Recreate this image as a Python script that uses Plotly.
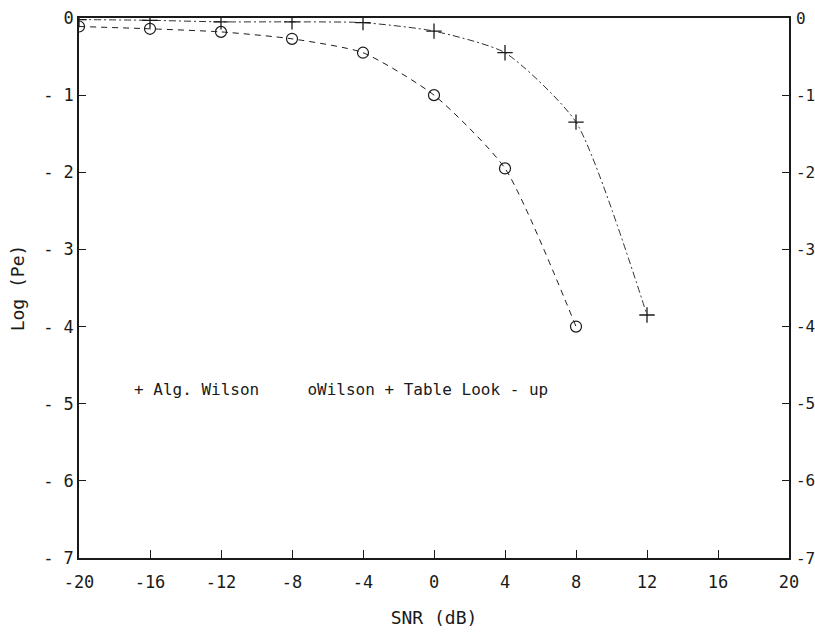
import plotly.graph_objects as go

# Error probability (log10 Pe) versus SNR for the two decoders
snr_db = [-20, -16, -12, -8, -4, 0, 4, 8, 12]
log_pe_alg_wilson = [-0.02, -0.03, -0.05, -0.05, -0.06, -0.17, -0.45, -1.35, -3.85]
snr_db_table = [-20, -16, -12, -8, -4, 0, 4, 8]
log_pe_table_lookup = [-0.11, -0.14, -0.18, -0.27, -0.45, -1.0, -1.95, -4.0]

x_ticks = [-20, -16, -12, -8, -4, 0, 4, 8, 12, 16, 20]
x_tick_text = ["-20", "-16", "-12", "-8", "-4", "0", "4", "8", "12", "16", "20"]
y_ticks = [0, -1, -2, -3, -4, -5, -6, -7]
y_tick_text_left = ["0", "- 1", "- 2", "- 3", "- 4", "- 5", "- 6", "- 7"]
y_tick_text_right = ["0", "-1", "-2", "-3", "-4", "-5", "-6", "-7"]

legend_text = "+ Alg. Wilson" + "\u00a0" * 5 + "oWilson + Table Look - up"

INK = "#1a1a1a"
FONT = "DejaVu Sans Mono"

fig = go.Figure()

fig.add_trace(go.Scatter(
    x=snr_db_table, y=log_pe_table_lookup,
    mode="lines+markers",
    line=dict(color=INK, width=1, dash="6px,5px", shape="spline", smoothing=0.6),
    marker=dict(symbol="circle-open", size=11, color=INK, line=dict(width=1.2, color=INK)),
    showlegend=False, hoverinfo="x+y",
))

fig.add_trace(go.Scatter(
    x=snr_db, y=log_pe_alg_wilson,
    mode="lines+markers",
    line=dict(color=INK, width=0.9, dash="7px,3px,2px,3px", shape="spline", smoothing=0.6),
    marker=dict(symbol="cross-thin", size=11, color=INK, line=dict(width=1.3, color=INK)),
    yaxis="y2",
    showlegend=False, hoverinfo="x+y",
))

fig.add_annotation(
    x=-17, y=-4.82, xref="x", yref="y",
    xanchor="left", yanchor="middle",
    text=legend_text, showarrow=False,
    font=dict(family=FONT, size=16, color=INK),
)

axis_common = dict(
    showgrid=False, zeroline=False,
    showline=True, linecolor=INK, linewidth=1.5,
    ticks="inside", tickcolor=INK, tickwidth=1,
)

fig.update_layout(
    width=815, height=635,
    margin=dict(l=79, r=26, t=18, b=77, autoexpand=False),
    paper_bgcolor="white", plot_bgcolor="white",
    font=dict(family=FONT, size=17, color=INK),
    xaxis=dict(
        range=[-20, 20], tickmode="array", tickvals=x_ticks, ticktext=x_tick_text,
        ticklen=8, mirror=True, ticklabelstandoff=8,
        title=dict(text="SNR (dB)", font=dict(family=FONT, size=18, color=INK), standoff=20),
        tickfont=dict(family=FONT, size=17, color=INK),
        **axis_common,
    ),
    yaxis=dict(
        range=[-7, 0], tickmode="array", tickvals=y_ticks, ticktext=y_tick_text_left,
        ticklen=7, mirror=True, ticklabelstandoff=0,
        title=dict(text="Log (Pe)", font=dict(family=FONT, size=18, color=INK), standoff=14),
        tickfont=dict(family=FONT, size=17, color=INK),
        **axis_common,
    ),
    yaxis2=dict(
        range=[-7, 0], overlaying="y", side="right",
        tickmode="array", tickvals=y_ticks, ticktext=y_tick_text_right,
        ticklen=7, ticklabelstandoff=2,
        tickfont=dict(family=FONT, size=16, color=INK),
        **axis_common,
    ),
)

fig.write_html("out.html")
